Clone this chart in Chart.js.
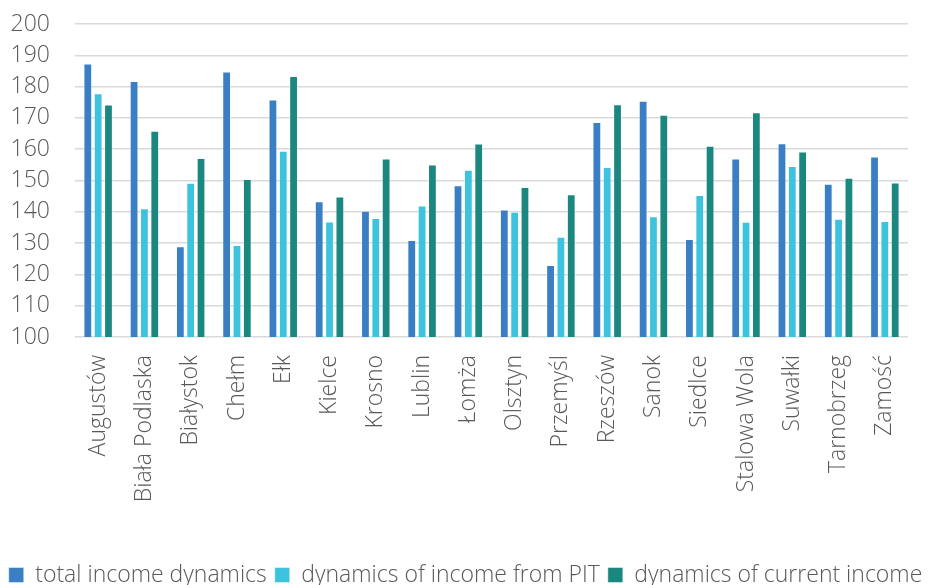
<!DOCTYPE html>
<html>
<head>
<meta charset="utf-8">
<script src="https://cdn.jsdelivr.net/npm/chart.js@4"></script>
<style>
  html, body { margin: 0; padding: 0; background: #ffffff; }
  #wrap { width: 931px; height: 585px; position: relative; }
</style>
</head>
<body>
<div id="wrap"><canvas id="chart" width="931" height="585"></canvas></div>
<script>
// Cities
const cities = [
  "Augustów", "Biała Podlaska", "Białystok", "Chełm", "Ełk", "Kielce",
  "Krosno", "Lublin", "Łomża", "Olsztyn", "Przemyśl", "Rzeszów",
  "Sanok", "Siedlce", "Stalowa Wola", "Suwałki", "Tarnobrzeg", "Zamość"
];

// Income dynamics per city
const totalIncome = [
  187.4, 181.8, 129.0, 184.8, 175.9, 143.4,
  140.3, 131.0, 148.5, 140.7, 123.0, 168.7,
  175.5, 131.3, 157.0, 161.9, 149.0, 157.7
];
const pitIncome = [
  177.9, 141.1, 149.3, 129.4, 159.5, 136.9,
  138.0, 142.0, 153.4, 140.0, 132.0, 154.3,
  138.6, 145.4, 136.8, 154.6, 137.8, 137.1
];
const currentIncome = [
  174.3, 165.9, 157.2, 150.5, 183.4, 144.9,
  157.0, 155.1, 161.8, 147.9, 145.6, 174.4,
  171.0, 161.1, 171.8, 159.3, 150.9, 149.4
];

const seriesNames = [
  "total income dynamics",
  "dynamics of income from PIT",
  "dynamics of current income"
];
const seriesColors = ["#3a7ec4", "#3ec3de", "#1b8880"];

const FONT = "'Open Sans', 'Noto Sans', sans-serif";
const TEXT = "#595959";
const FONT_SIZE = 23;

Chart.defaults.font.family = FONT;
Chart.defaults.color = TEXT;

const makeSet = (label, data, color) => ({
  label,
  data,
  backgroundColor: color,
  borderColor: "rgba(255,255,255,0.45)",
  borderWidth: 1,
  categoryPercentage: 0.67,
  barPercentage: 0.85
});

new Chart(document.getElementById("chart"), {
  type: "bar",
  data: {
    labels: cities,
    datasets: [
      makeSet(seriesNames[0], totalIncome, seriesColors[0]),
      makeSet(seriesNames[1], pitIncome, seriesColors[1]),
      makeSet(seriesNames[2], currentIncome, seriesColors[2])
    ]
  },
  options: {
    responsive: false,
    animation: false,
    devicePixelRatio: 1,
    layout: { padding: { top: 24, right: 0, bottom: -11.5, left: 0 } },
    plugins: {
      tooltip: { enabled: false },
      legend: {
        position: "bottom",
        labels: {
          boxWidth: 15,
          boxHeight: 15,
          padding: 8,
          color: TEXT,
          font: { family: FONT, size: FONT_SIZE, weight: "300" }
        }
      }
    },
    scales: {
      x: {
        grid: { display: false },
        border: { display: false },
        ticks: {
          color: TEXT,
          font: { family: FONT, size: FONT_SIZE, weight: "300" },
          maxRotation: 90,
          minRotation: 90,
          padding: 10,
          autoSkip: false
        },
        afterFit: (scale) => { scale.height = 218.5; }
      },
      y: {
        min: 100,
        max: 200,
        border: { display: false },
        grid: {
          color: "#d9d9d9",
          lineWidth: 1.5,
          drawTicks: true,
          tickLength: 25,
          tickColor: "rgba(0,0,0,0)"
        },
        ticks: {
          stepSize: 10,
          padding: 0,
          color: TEXT,
          font: { family: FONT, size: FONT_SIZE, weight: "300", lineHeight: 1 }
        },
        afterFit: (scale) => { scale.width = 75; }
      },
      // empty margin on the right of the plot
      gutter: {
        type: "linear",
        position: "right",
        grid: { display: false },
        border: { display: false },
        ticks: { display: false },
        afterFit: (scale) => { scale.width = 23; }
      }
    }
  }
});
</script>
</body>
</html>
